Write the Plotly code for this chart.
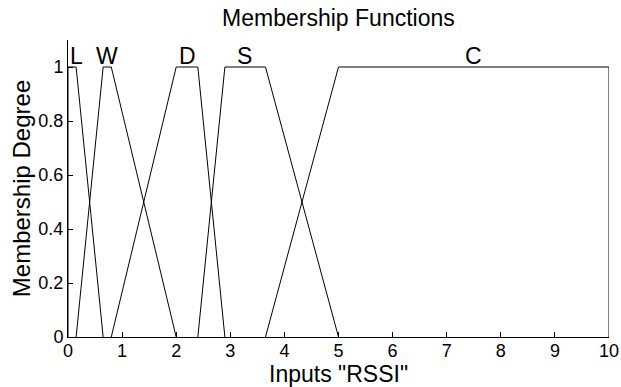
import plotly.graph_objects as go

# Trapezoidal membership functions for the "RSSI" input: [a, b, c, d]
mf_names = ["L", "W", "D", "S", "C"]
mf_params = [
    [0.0, 0.0, 0.15, 0.65],
    [0.15, 0.65, 0.8, 2.0],
    [0.8, 2.0, 2.4, 2.9],
    [2.4, 2.9, 3.65, 5.0],
    [3.65, 5.0, 10.0, 10.0],
]
label_x = [0.15, 0.72, 2.2, 3.27, 7.5]

x_ticks = list(range(0, 11))
y_ticks = [0, 0.2, 0.4, 0.6, 0.8, 1]

fig = go.Figure()
for name, (a, b, c, d) in zip(mf_names, mf_params):
    fig.add_trace(go.Scatter(
        x=[a, b, c, d], y=[0, 1, 1, 0],
        mode="lines", line=dict(color="black", width=1),
        name=name, showlegend=False, hoverinfo="skip",
    ))

for name, lx in zip(mf_names, label_x):
    fig.add_annotation(x=lx, y=1.0, text=name, showarrow=False,
                       yanchor="bottom", xanchor="center", yshift=-4,
                       font=dict(size=23, color="black"))

# x-axis title placed just under the tick labels
fig.add_annotation(x=0.5, y=-0.124, xref="paper", yref="paper",
                   text='Inputs "RSSI"', showarrow=False,
                   xanchor="center", yanchor="middle",
                   font=dict(size=23, color="black"))

font_family = "Liberation Sans, Arial, sans-serif"
fig.update_layout(
    width=621, height=387,
    margin=dict(l=68, r=12, t=40, b=50, autoexpand=False),
    paper_bgcolor="white", plot_bgcolor="white",
    font=dict(family=font_family, color="black"),
    title=dict(text="Membership Functions", x=0.545, xanchor="center",
               y=0.953, yanchor="middle", font=dict(size=23)),
    xaxis=dict(range=[0, 10], tickvals=x_ticks, ticks="inside", ticklen=5,
               tickcolor="black", showline=True, linecolor="black", linewidth=1,
               showgrid=False, zeroline=False, tickfont=dict(size=18),
               ticklabelstandoff=-3, automargin=False),
    yaxis=dict(range=[0, 1.1], tickvals=y_ticks, ticktext=["0", "0.2", "0.4", "0.6", "0.8", "1"],
               ticks="inside", ticklen=5,
               tickcolor="black", showline=True, linecolor="black", linewidth=1,
               showgrid=False, zeroline=False, tickfont=dict(size=18),
               automargin=False,
               title=dict(text="Membership Degree", font=dict(size=24), standoff=0)),
)

fig.write_html("out.html")
